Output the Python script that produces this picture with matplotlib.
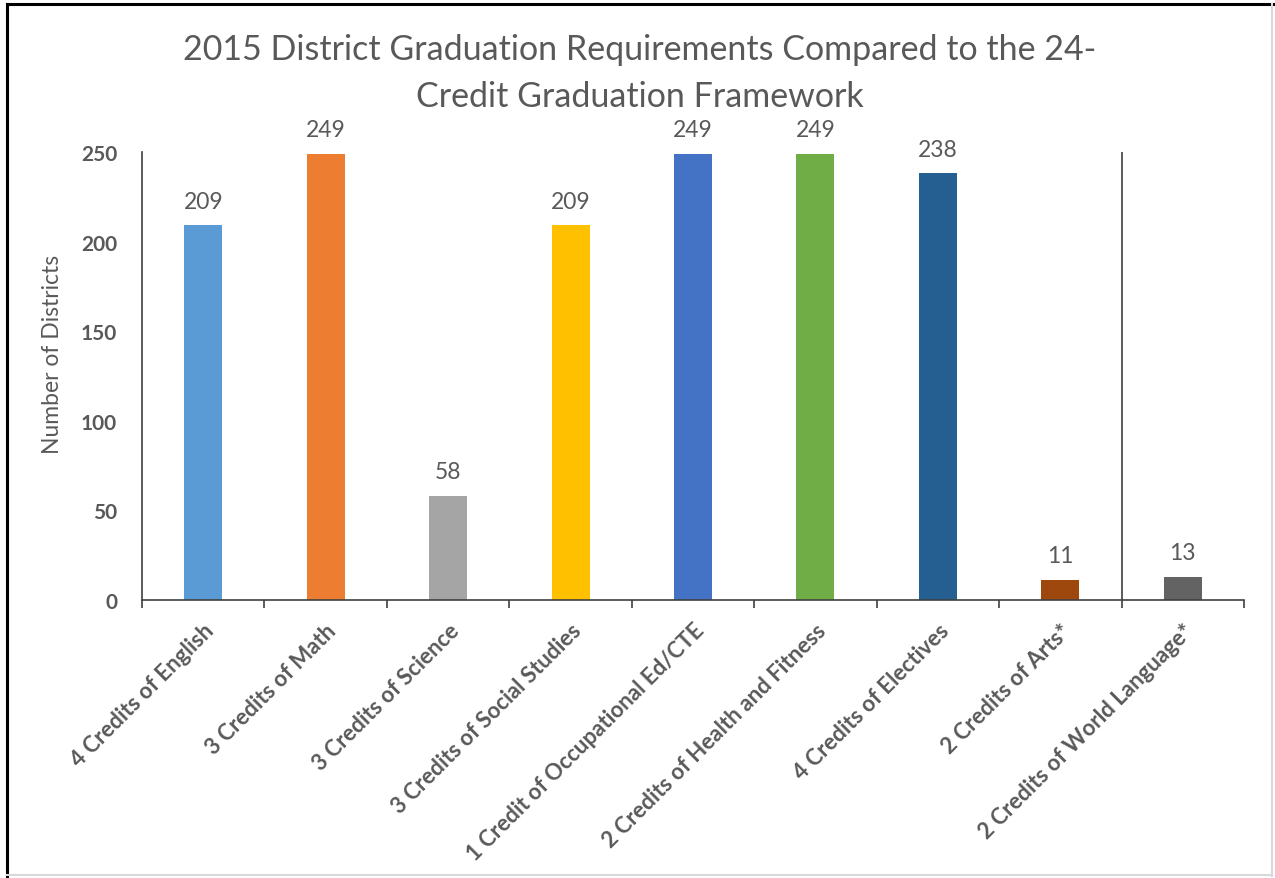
import numpy as np
import matplotlib.pyplot as plt
from matplotlib.lines import Line2D

plt.rcParams['font.family'] = ['Lato', 'DejaVu Sans']

categories = ['4 Credits of English', '3 Credits of Math', '3 Credits of Science',
              '3 Credits of Social Studies', '1 Credit of Occupational Ed/CTE',
              '2 Credits of Health and Fitness', '4 Credits of Electives',
              '2 Credits of Arts*', '2 Credits of World Language*']
districts = [209, 249, 58, 209, 249, 249, 238, 11, 13]
colors = ['#5b9bd5', '#ed7d31', '#a5a5a5', '#ffc000', '#4472c4',
          '#70ad47', '#255e91', '#9e480e', '#636363']
yticks = [0, 50, 100, 150, 200, 250]

text_gray = '#595959'
axis_gray = '#404040'

fig = plt.figure(figsize=(12.75, 8.79), dpi=100)
ax = fig.add_axes([0.1114, 0.3163, 0.8643, 0.5097])

x = np.arange(len(categories))
ax.bar(x, districts, width=0.31, color=colors)

for xi, v in zip(x, districts):
    ax.annotate(str(v), (xi, v), xytext=(0, 10), textcoords='offset points',
                ha='center', va='bottom', fontsize=16.5, color=text_gray)

ax.set_xlim(-0.5, len(categories) - 0.5)
ax.set_ylim(0, 250)
ax.set_yticks(yticks)
ax.set_yticklabels([str(t) for t in yticks], fontsize=15, fontweight='bold', color=text_gray)
ax.tick_params(axis='y', length=0, pad=18)

# category separators as x ticks
ax.set_xticks(np.arange(len(categories) + 1) - 0.5, minor=True)
ax.set_xticks(x)
ax.set_xticklabels(categories, rotation=45, ha='right', rotation_mode='anchor',
                   fontsize=16, fontweight='bold', color=text_gray)
ax.tick_params(axis='x', which='major', length=0, pad=14)
ax.tick_params(axis='x', which='minor', length=6, width=1.2, color=axis_gray, direction='out')

ax.spines['top'].set_visible(False)
ax.spines['right'].set_visible(False)
ax.spines['left'].set_color(axis_gray)
ax.spines['bottom'].set_color(axis_gray)
ax.spines['left'].set_linewidth(1.2)
ax.spines['bottom'].set_linewidth(1.2)

# divider before the optional requirement
ax.axvline(len(categories) - 1.5, color=axis_gray, lw=1.2)

ax.set_ylabel('Number of Districts', fontsize=16.5, color=text_gray)
ax.yaxis.set_label_coords(-0.0715, 0.551)

fig.text(0.502, 0.9165, '2015 District Graduation Requirements Compared to the 24-\nCredit Graduation Framework',
         ha='center', va='center', fontsize=24.5, color=text_gray, linespacing=1.6)

# outer frame
fig.add_artist(Line2D([0.0055, 0.0055], [0.002, 0.9945], color='black', lw=2.2, transform=fig.transFigure))
fig.add_artist(Line2D([0.0055, 0.9985], [0.9945, 0.9945], color='black', lw=2.2, transform=fig.transFigure))
fig.add_artist(Line2D([0.998, 0.998], [0.002, 0.9945], color='#d9d9d9', lw=1.5, transform=fig.transFigure))
fig.add_artist(Line2D([0.0055, 0.998], [0.003, 0.003], color='#d9d9d9', lw=1.5, transform=fig.transFigure))

fig.savefig('out.png', dpi=100)
